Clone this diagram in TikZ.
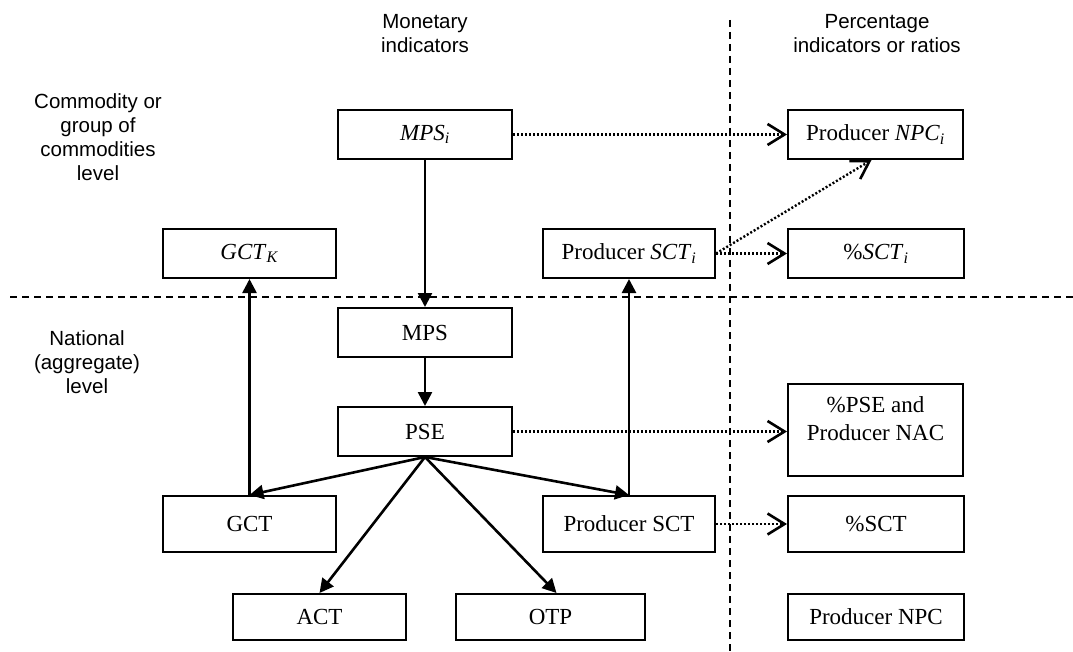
\documentclass[tikz,border=0pt]{standalone}
\usepackage{fontspec}
\setmainfont{Liberation Serif}
\newfontfamily\arialfont{Liberation Sans}
\usetikzlibrary{arrows.meta}
\begin{document}
\begin{tikzpicture}[x=1pt,y=-1pt,
  box/.style={draw,line width=2pt,inner sep=0pt,font=\fontsize{23}{27.6}\selectfont,align=center},
  lbl/.style={font=\arialfont\fontsize{20.5}{24}\selectfont,align=center,inner sep=0pt},
  solidarr/.style={line width=2.6pt,-{Triangle[length=14pt,width=14pt]}},
  dotarr/.style={line width=2.4pt,dash pattern=on 2pt off 2pt,-{Straight Barb[length=17pt,width=21pt,line width=2.6pt]}},
  sep/.style={line width=1.8pt,dash pattern=on 7pt off 5pt}]
\useasboundingbox (0,0) rectangle (1073,652);
% separators
\coordinate (vtop) at (730,20);
\coordinate (vbot) at (730,652);
\coordinate (hl) at (10,297);
\coordinate (hr) at (1073,297);
\draw[sep] (vtop) -- (vbot);
\draw[sep] (hl) -- (hr);
% labels
\node[lbl] (lmon) at (425,33.5) {Monetary\\indicators};
\node[lbl] (lpct) at (877,33.5) {Percentage\\indicators or ratios};
\node[lbl] (lcom) at (98,137) {Commodity or\\group of\\commodities\\level};
\node[lbl] (lnat) at (87,362) {National\\(aggregate)\\level};
% boxes
\node[box,minimum width=174pt,minimum height=49pt] (mpsi) at (425,134.5) {\textit{MPS}\textsubscript{\textit{i}}};
\node[box,minimum width=173pt,minimum height=49pt] (gctk) at (249.5,253.5) {\textit{GCT}\textsubscript{\textit{K}}};
\node[box,minimum width=172pt,minimum height=49pt] (scti) at (629,253.5) {Producer \textit{SCT}\textsubscript{\textit{i}}};
\node[box,minimum width=175pt,minimum height=49pt] (npci) at (875.5,134.5) {Producer \textit{NPC}\textsubscript{\textit{i}}};
\node[box,minimum width=176pt,minimum height=49pt] (pscti) at (876,253.5) {\%\textit{SCT}\textsubscript{\textit{i}}};
\node[box,minimum width=174pt,minimum height=49pt] (mps) at (425,332.5) {MPS};
\node[box,minimum width=174pt,minimum height=49pt] (pse) at (425,431.5) {PSE};
\node[box,minimum width=173pt,minimum height=56pt] (gct) at (249.5,524) {GCT};
\node[box,minimum width=172pt,minimum height=56pt] (psct) at (629,524) {Producer SCT};
\node[box,minimum width=175pt,minimum height=92pt] (ppse) at (875.5,430) {\raisebox{9pt}[\height][\depth]{\begin{tabular}{@{}c@{}}\%PSE and\\Producer NAC\end{tabular}}};
\node[box,minimum width=176pt,minimum height=56pt] (psctp) at (876,524) {\%SCT};
\node[box,minimum width=173pt,minimum height=46pt] (act) at (319.5,617) {ACT};
\node[box,minimum width=189pt,minimum height=46pt] (otp) at (550.5,617) {OTP};
\node[box,minimum width=176pt,minimum height=46pt] (npc) at (876,617) {Producer NPC};
% solid arrows
\draw[solidarr] (mpsi.south) -- (mps.north);
\draw[solidarr] (mps.south) -- (pse.north);
\draw[solidarr] (pse.south) -- (gct.north);
\draw[solidarr] (pse.south) -- (act.north);
\draw[solidarr] (pse.south) -- ([xshift=6pt]otp.north);
\draw[solidarr] (pse.south) -- (psct.north);
\draw[solidarr] (gct.north) -- (gctk.south);
\draw[solidarr] (psct.north) -- (scti.south);
% dotted arrows
\draw[dotarr] (mpsi.east) -- (npci.west);
\draw[dotarr] (scti.east) -- (pscti.west);
\draw[dotarr] (scti.east) -- ([xshift=-4pt]npci.south);
\draw[dotarr] (pse.east) -- (pse.east -| ppse.west);
\draw[dotarr] (psct.east) -- (psctp.west);
\end{tikzpicture}
\end{document}
